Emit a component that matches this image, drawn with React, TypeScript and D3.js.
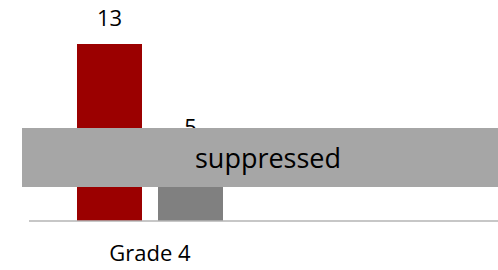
import { useEffect, useRef } from "react";
import * as d3 from "d3";

const categories = ["Grade 4"];
const seriesNames = ["A", "B"];
const seriesValues = [[13], [5]];
const seriesColors = ["#9b0000", "#808080"];
const overlayText = "suppressed";

const width = 498;
const height = 270;

const App = () => {
    const svgRef = useRef<SVGSVGElement>(null);

    useEffect(() => {
        const svg = d3.select(svgRef.current);
        svg.selectAll("*").remove();

        const baseline = 221;
        const x0 = d3.scaleBand().domain(categories).range([29, 271]).padding(0.2474);
        const x1 = d3.scaleBand().domain(seriesNames).range([0, x0.bandwidth()]).paddingInner(0.1975);
        const y = d3.scaleLinear().domain([0, 13]).range([baseline, 44]);

        const groups = svg.append("g")
            .selectAll("g")
            .data(categories)
            .join("g")
            .attr("transform", (d) => `translate(${x0(d)},0)`);

        seriesNames.forEach((s, si) => {
            groups.append("rect")
                .attr("x", x1(s)!)
                .attr("width", x1.bandwidth())
                .attr("y", (_, ci) => y(seriesValues[si][ci]))
                .attr("height", (_, ci) => baseline - y(seriesValues[si][ci]))
                .attr("fill", seriesColors[si]);
            groups.append("text")
                .attr("x", x1(s)! + x1.bandwidth() / 2)
                .attr("y", (_, ci) => y(seriesValues[si][ci]) - 18)
                .attr("text-anchor", "middle")
                .attr("font-family", "Open Sans")
                .attr("font-size", 22)
                .attr("fill", "#000")
                .text((_, ci) => seriesValues[si][ci]);
        });

        // axis line
        svg.append("line")
            .attr("x1", 29).attr("x2", width)
            .attr("y1", baseline).attr("y2", baseline)
            .attr("stroke", "#b4b4b4").attr("stroke-width", 1.5);

        svg.append("g")
            .selectAll("text")
            .data(categories)
            .join("text")
            .attr("x", (d) => x0(d)! + x0.bandwidth() / 2)
            .attr("y", 261)
            .attr("text-anchor", "middle")
            .attr("font-family", "Open Sans")
            .attr("font-size", 22)
            .text((d) => d);

        // suppression overlay
        svg.append("rect")
            .attr("x", 22).attr("y", 128)
            .attr("width", width - 22).attr("height", 59)
            .attr("fill", "#a6a6a6");
        svg.append("text")
            .attr("x", 268).attr("y", 168)
            .attr("text-anchor", "middle")
            .attr("font-family", "Open Sans")
            .attr("font-size", 27)
            .attr("fill", "#000")
            .text(overlayText);
    }, []);

    return <svg ref={svgRef} width={width} height={height} style={{ position: "absolute", left: 0, top: 0 }}></svg>;
};

export default App;
